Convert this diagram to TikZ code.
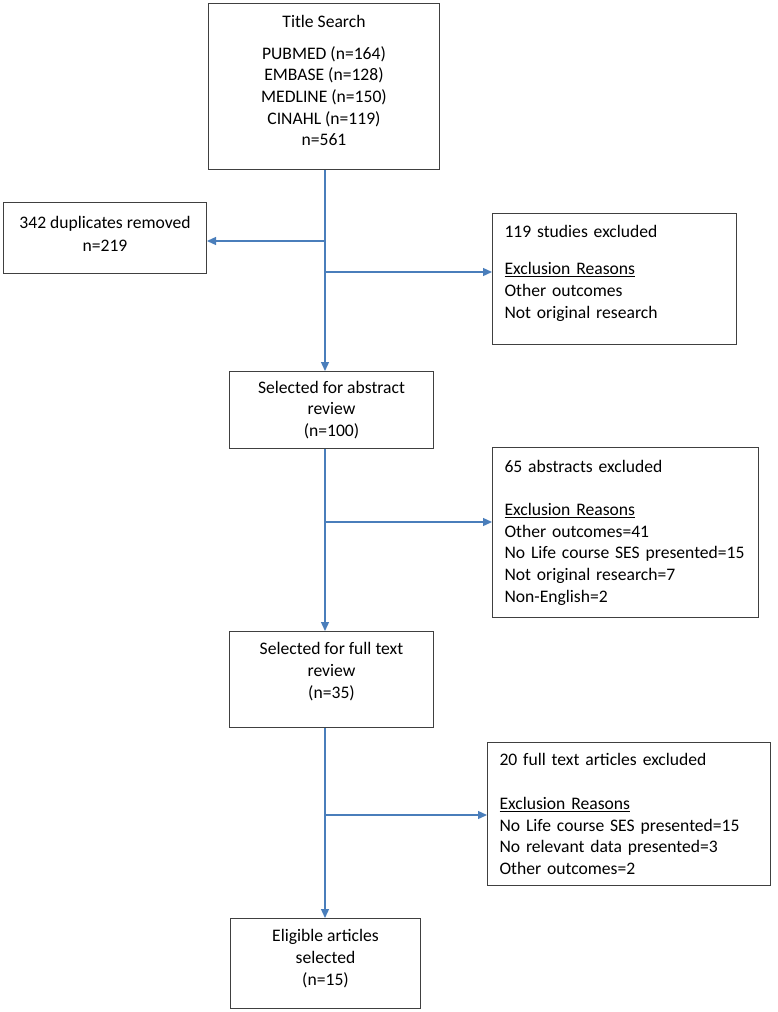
\documentclass[tikz,border=0pt]{standalone}
\usepackage{fontspec}
\setmainfont{Carlito}
\usepackage{tikz}
\usetikzlibrary{arrows.meta}
\definecolor{flowblue}{HTML}{4A7EBB}
\hyphenpenalty=10000

\begin{document}
\begin{tikzpicture}[x=1pt,y=-1pt,
  box/.style={draw=black!75,line width=1pt,anchor=north west,inner sep=0pt,
    font=\fontsize{17.6}{21.7}\selectfont},
  midbox/.style={box,align=center},
  reasons/.style={box,align=left,inner xsep=12pt},
  flow/.style={draw=flowblue,line width=1.3pt,-{Triangle[length=9pt,width=8pt]}}]
\useasboundingbox (0,0) rectangle (777,1012);
% boxes
\node[midbox,minimum width=231pt,minimum height=166pt,text depth=12pt] (search) at (208,3)
  {Title Search\\[10pt]PUBMED (n=164)\\EMBASE (n=128)\\MEDLINE (n=150)\\CINAHL (n=119)\\n=561};
\node[midbox,minimum width=203pt,minimum height=71pt,text depth=8pt] (dup) at (3,202)
  {342 duplicates removed\\[2pt]n=219};
\node[reasons,text width=220pt,minimum height=131pt,text depth=96pt] (excl1) at (492,213)
  {119 studies excluded\\[16pt]\underline{Exclusion Reasons}\\Other outcomes\\Not original research};
\node[midbox,minimum width=204pt,minimum height=77pt] (abstract) at (229,371)
  {Selected for abstract\\review\\(n=100)};
\node[reasons,text width=242pt,minimum height=170pt] (excl2) at (492,447)
  {65 abstracts excluded\\[21.7pt]\underline{Exclusion Reasons}\\Other outcomes=41\\No Life course SES presented=15\\Not original research=7\\Non-English=2};
\node[midbox,minimum width=204pt,minimum height=96pt,text depth=18pt] (fulltext) at (229,631)
  {Selected for full text\\review\\(n=35)};
\node[reasons,text width=259pt,minimum height=143pt] (excl3) at (487,742)
  {20 full text articles excluded\\[22pt]\underline{Exclusion Reasons}\\No Life course SES presented=15\\No relevant data presented=3\\Other outcomes=2};
\node[midbox,minimum width=190pt,minimum height=90pt,text depth=12pt] (eligible) at (230,918)
  {Eligible articles\\selected\\(n=15)};
% trunk and branch points
\coordinate (trunk) at (325,0);
\coordinate (j1) at (325,241);
\coordinate (j2) at (325,272);
\coordinate (j3) at (325,522);
\coordinate (j4) at (325,815);
% connectors
\draw[flow] (search.south -| trunk) -- (abstract.north -| trunk);
\draw[flow] (j1) -- (j1 -| dup.east);
\draw[flow] (j2) -- (j2 -| excl1.west);
\draw[flow] (abstract.south -| trunk) -- (fulltext.north -| trunk);
\draw[flow] (j3) -- (j3 -| excl2.west);
\draw[flow] (fulltext.south -| trunk) -- (eligible.north -| trunk);
\draw[flow] (j4) -- (j4 -| excl3.west);
\end{tikzpicture}
\end{document}
